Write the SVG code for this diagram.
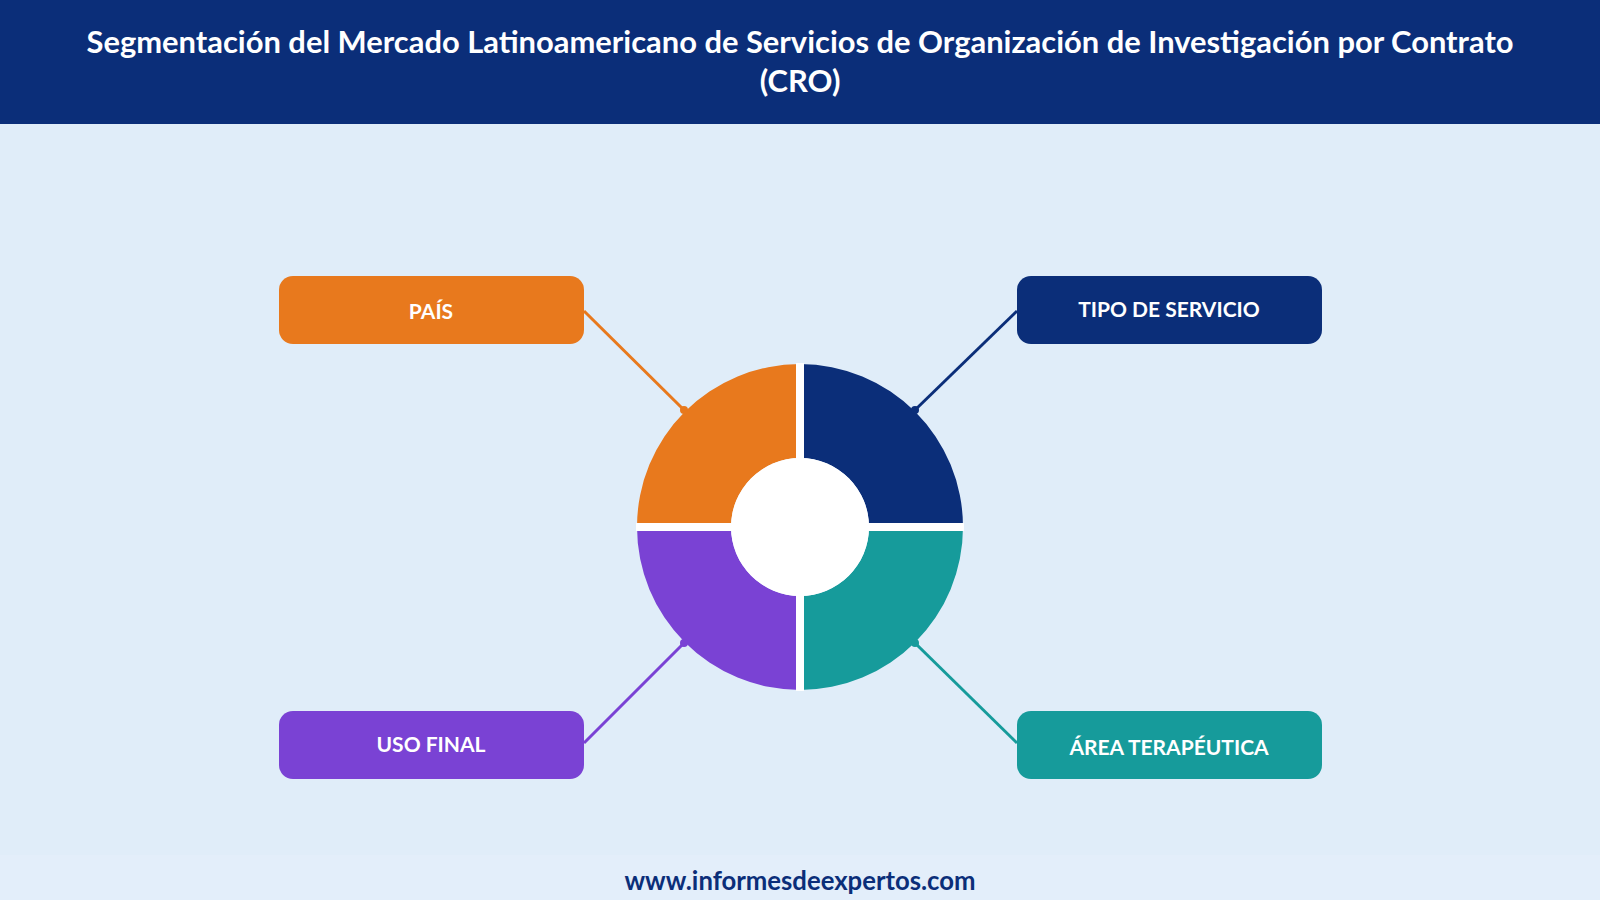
<svg xmlns="http://www.w3.org/2000/svg" width="1600" height="900" viewBox="0 0 1600 900">
<style>
.t{font-family:Lato,"Liberation Sans",sans-serif;font-weight:bold;fill:#fff;text-anchor:middle}
.c{stroke-width:3;fill:none}
</style>
<rect width="1600" height="900" fill="#e0edf9"/>
<rect width="1600" height="124" fill="#0b2e79"/>
<text class="t" x="800" y="53" font-size="30.9">Segmentación del Mercado Latinoamericano de Servicios de Organización de Investigación por Contrato</text>
<text class="t" x="800" y="92" font-size="30.9">(CRO)</text>
<rect y="855" width="1600" height="45" fill="#e3eefa"/>
<text class="t" x="800" y="890" font-size="25.7" style="fill:#0b2e79">www.informesdeexpertos.com</text>
<g id="donut">
<path d="M637,527 A163,163 0 0 1 800,364 L800,458 A69,69 0 0 0 731,527 Z" fill="#e8791d"/>
<path d="M800,364 A163,163 0 0 1 963,527 L869,527 A69,69 0 0 0 800,458 Z" fill="#0b2e79"/>
<path d="M963,527 A163,163 0 0 1 800,690 L800,596 A69,69 0 0 0 869,527 Z" fill="#169b9b"/>
<path d="M800,690 A163,163 0 0 1 637,527 L731,527 A69,69 0 0 0 800,596 Z" fill="#7a42d4"/>
<line x1="636" y1="527" x2="964" y2="527" stroke="#fff" stroke-width="8"/>
<line x1="800" y1="363" x2="800" y2="691" stroke="#fff" stroke-width="8"/>
<circle cx="800" cy="527" r="69" fill="#fff"/>
</g>
<g id="connectors">
<line class="c" x1="584" y1="311" x2="684" y2="410" stroke="#e8791d"/><circle cx="684" cy="410" r="4" fill="#e8791d"/>
<line class="c" x1="1017" y1="311" x2="915" y2="410" stroke="#0b2e79"/><circle cx="915" cy="410" r="4" fill="#0b2e79"/>
<line class="c" x1="584" y1="743" x2="684" y2="643" stroke="#7a42d4"/><circle cx="684" cy="643" r="4" fill="#7a42d4"/>
<line class="c" x1="1017" y1="743" x2="915" y2="643" stroke="#169b9b"/><circle cx="915" cy="643" r="4" fill="#169b9b"/>
</g>
<g id="pais"><rect x="279" y="276" width="305" height="68" rx="14" fill="#e8791d"/><text class="t" x="431" y="319" font-size="21">PAÍS</text></g>
<g id="tipo"><rect x="1017" y="276" width="305" height="68" rx="14" fill="#0b2e79"/><text class="t" x="1169" y="317" font-size="21">TIPO DE SERVICIO</text></g>
<g id="uso"><rect x="279" y="711" width="305" height="68" rx="14" fill="#7a42d4"/><text class="t" x="431" y="752" font-size="21">USO FINAL</text></g>
<g id="area"><rect x="1017" y="711" width="305" height="68" rx="14" fill="#169b9b"/><text class="t" x="1169" y="755" font-size="21">ÁREA TERAPÉUTICA</text></g>
</svg>
